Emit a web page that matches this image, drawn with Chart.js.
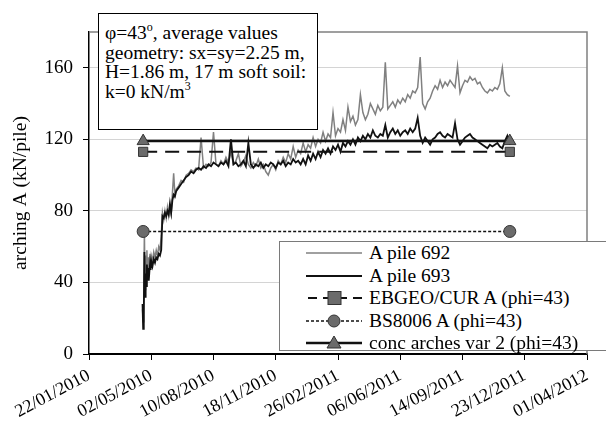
<!DOCTYPE html>
<html><head><meta charset="utf-8">
<script src="https://cdn.jsdelivr.net/npm/chart.js@4.4.1/dist/chart.umd.min.js"></script>
<style>
html,body{margin:0;padding:0;background:#fff;}
#wrap{position:relative;width:606px;height:427px;overflow:hidden;font-family:"Liberation Serif","DejaVu Serif",serif;color:#000;}
#c{position:absolute;left:0;top:0;}
#note{position:absolute;left:98px;top:13px;width:220px;height:117px;border:1.5px solid #000;background:#fff;font-size:19.5px;line-height:19.5px;box-sizing:border-box;padding:9px 0 0 6px;white-space:nowrap;overflow:hidden;}
#note sup{font-size:12px;vertical-align:8px;line-height:0;}
#legend{position:absolute;left:279px;top:241px;width:330px;height:110px;border:1.5px solid #7a7a7a;background:#fff;box-sizing:border-box;}
.row{position:absolute;left:0;height:22px;width:330px;}
.row svg{position:absolute;left:26px;top:0;}
.row span{position:absolute;left:89px;top:0;font-size:19.5px;line-height:22px;white-space:nowrap;}
</style></head>
<body>
<div id="wrap">
<canvas id="c" width="606" height="427"></canvas>
<div id="note">φ=43<sup>o</sup>, average values<br>geometry: sx=sy=2.25 m,<br>H=1.86 m, 17 m soft soil:<br>k=0 kN/m<sup>3</sup></div>
<div id="legend"></div>
</div>
<script>
// ---- data (days since 22/01/2010) ----
const tickLabels = ['22/01/2010','02/05/2010','10/08/2010','18/11/2010','26/02/2011','06/06/2011','14/09/2011','23/12/2011','01/04/2012'];
const seriesNames = ['A pile 692','A pile 693','EBGEO/CUR A (phi=43)','BS8006 A (phi=43)','conc arches var 2 (phi=43)'];
const days = [
 86,87,88,89,90,91,92,93,94,95,96,97,98,99,100,
 102,104,106,108,110,112,114,116,118,120,122,124,126,128,130,132,134,136,138,140,
 144,148,152,156,160,164,168,172,176,180,
 184,188,192,196,200,204,208,212,216,220,
 224,228,232,236,240,244,248,252,256,260,
 264,268,272,276,280,284,288,292,296,300,
 304,308,312,316,320,324,328,332,336,340,
 344,348,352,356,360,364,368,372,376,380,
 384,388,392,396,400,404,408,412,416,420,
 424,428,432,436,440,444,448,452,456,460,
 464,468,472,476,480,484,488,492,496,500,
 504,508,512,516,520,524,528,532,536,540,
 544,548,552,556,560,564,568,572,576,580,
 584,588,592,596,600,604,608,612,616,620,
 624,628,632,636,640,644,648,652,656,660,
 664,668,672,676
];
const pile692 = [
 25,18,40,68,36,55,50,58,47,54,45,52,56,50,55,
 52,57,54,58,55,60,58,66,79,75,80,76,82,77,81,78,90,101,89,92,
 94,97,96,100,101,103,102,104,103,121,
 104,106,105,107,124,106,105,108,106,110,
 107,113,106,108,112,105,107,111,106,104,
 107,105,109,104,106,102,100,104,106,103,
 108,106,110,107,112,109,116,110,114,112,
 118,113,117,115,121,116,120,118,124,119,
 123,121,135,122,126,124,131,125,138,130,
 133,128,131,145,135,131,134,140,137,134,
 139,136,138,163,137,139,141,138,142,140,
 143,141,145,143,147,146,149,166,140,137,
 141,143,147,150,148,153,149,152,150,153,
 151,149,161,146,150,153,152,155,153,154,
 151,152,149,147,146,148,147,149,148,151,
 160,147,145,144
];
const pile693 = [
 28,14,22,57,32,45,38,50,44,48,41,46,50,47,52,
 49,53,51,54,53,56,55,58,77,76,79,77,80,78,84,79,86,89,88,91,
 93,95,97,99,100,102,101,103,104,103,
 105,104,106,105,107,106,105,107,106,108,
 105,120,106,107,105,106,108,105,118,106,
 104,106,105,107,104,106,105,107,106,104,
 107,106,108,105,107,106,109,107,108,106,
 109,106,111,108,112,109,113,110,114,112,
 115,112,116,114,117,113,118,116,119,117,
 120,117,121,119,122,120,123,121,125,122,
 121,123,122,128,121,124,126,123,125,122,
 124,125,123,126,124,126,132,122,118,121,
 119,117,120,121,123,124,122,121,123,122,
 121,129,120,117,119,121,122,123,121,120,
 119,118,117,116,115,117,116,117,118,116,
 115,119,122,117
];
const refDays = [87, 676];
const ebgeo = [113, 113];
const bs8006 = [68.5, 68.5];
const concArches = [119, 119];

// ---- build chart ----
const pts = (xs, ys) => xs.map((x, i) => ({x: x, y: ys[i]}));
const markerFill = '#6b6b6b', markerEdge = '#333';
const datasets = [
  {label: seriesNames[0], data: pts(days, pile692), borderColor: '#808080', borderWidth: 1.5, pointRadius: 0, order: 5},
  {label: seriesNames[1], data: pts(days, pile693), borderColor: '#111', borderWidth: 1.8, pointRadius: 0, order: 4},
  {label: seriesNames[2], data: pts(refDays, ebgeo), borderColor: '#111', borderWidth: 2, borderDash: [14, 8], pointStyle: 'rect', pointRadius: 6.5, pointBackgroundColor: markerFill, pointBorderColor: markerEdge, pointBorderWidth: 1, order: 2},
  {label: seriesNames[3], data: pts(refDays, bs8006), borderColor: '#111', borderWidth: 1.5, borderDash: [3, 2], pointStyle: 'circle', pointRadius: 6, pointBackgroundColor: markerFill, pointBorderColor: markerEdge, pointBorderWidth: 1, order: 3},
  {label: seriesNames[4], data: pts(refDays, concArches), borderColor: '#111', borderWidth: 2.5, pointStyle: 'triangle', pointRadius: 7, pointBackgroundColor: markerFill, pointBorderColor: markerEdge, pointBorderWidth: 1, order: 1}
];

const framePlugin = {
  id: 'frame',
  beforeDatasetsDraw(chart) {
    const {ctx, chartArea: a} = chart;
    ctx.save();
    ctx.strokeStyle = '#808080';
    ctx.lineWidth = 1.5;
    ctx.beginPath();
    ctx.moveTo(a.left, a.top); ctx.lineTo(a.right, a.top); ctx.lineTo(a.right, a.bottom);
    ctx.stroke();
    ctx.restore();
  }
};

const serif = '"Liberation Serif", "DejaVu Serif", serif';
new Chart(document.getElementById('c'), {
  type: 'line',
  data: {datasets},
  options: {
    responsive: false, animation: false,
    layout: {padding: {top: 32, right: 19, left: 0, bottom: 0}},
    plugins: {legend: {display: false}, tooltip: {enabled: false}},
    elements: {line: {tension: 0}},
    scales: {
      x: {
        type: 'linear', min: 0, max: 800,
        afterFit(s) { s.height = 73; },
        ticks: {stepSize: 100, autoSkip: false, maxRotation: 28, minRotation: 28, padding: 5, color: '#000',
          font: {family: serif, size: 18},
          callback: (v) => tickLabels[Math.round(v / 100)]},
        grid: {drawOnChartArea: false, tickLength: 6, color: '#000', tickColor: '#000'},
        border: {color: '#000', width: 1.5}
      },
      y: {
        min: 0, max: 180,
        afterFit(s) { s.width = 89; },
        ticks: {stepSize: 40, padding: 10, color: '#000', font: {family: serif, size: 19},
          callback: (v) => (v === 180 ? null : String(v))},
        grid: {color: (c) => (c.tick && c.tick.value === 0 ? '#000' : '#d4d4d4'), tickColor: '#000', tickLength: 6, lineWidth: 1},
        border: {color: '#000', width: 1.5},
        title: {display: true, text: 'arching A (kN/pile)', color: '#000', font: {family: serif, size: 19.5}, padding: {top: 9, bottom: 0}}
      }
    }
  },
  plugins: [framePlugin]
});

// ---- legend (HTML) ----
const legendSamples = [
  '<line x1="0" y1="11" x2="56" y2="11" stroke="#808080" stroke-width="1.5"/>',
  '<line x1="0" y1="11" x2="56" y2="11" stroke="#111" stroke-width="1.8"/>',
  '<line x1="0" y1="11" x2="56" y2="11" stroke="#111" stroke-width="2" stroke-dasharray="9 6" stroke-dashoffset="-2"/><rect x="22" y="4.5" width="13" height="13" fill="' + markerFill + '" stroke="' + markerEdge + '"/>',
  '<line x1="0" y1="11" x2="56" y2="11" stroke="#111" stroke-width="1.5" stroke-dasharray="3 2"/><circle cx="28" cy="11" r="6" fill="' + markerFill + '" stroke="' + markerEdge + '"/>',
  '<line x1="0" y1="11" x2="56" y2="11" stroke="#111" stroke-width="2.5"/><polygon points="28,4 35,16 21,16" fill="' + markerFill + '" stroke="' + markerEdge + '"/>'
];
const rowTops = [0, 22.5, 45, 67.5, 90];
const lg = document.getElementById('legend');
seriesNames.forEach((name, i) => {
  const r = document.createElement('div');
  r.className = 'row';
  r.style.top = rowTops[i] + 'px';
  r.innerHTML = '<svg width="60" height="22">' + legendSamples[i] + '</svg><span>' + name + '</span>';
  lg.appendChild(r);
});
</script>
</body></html>
